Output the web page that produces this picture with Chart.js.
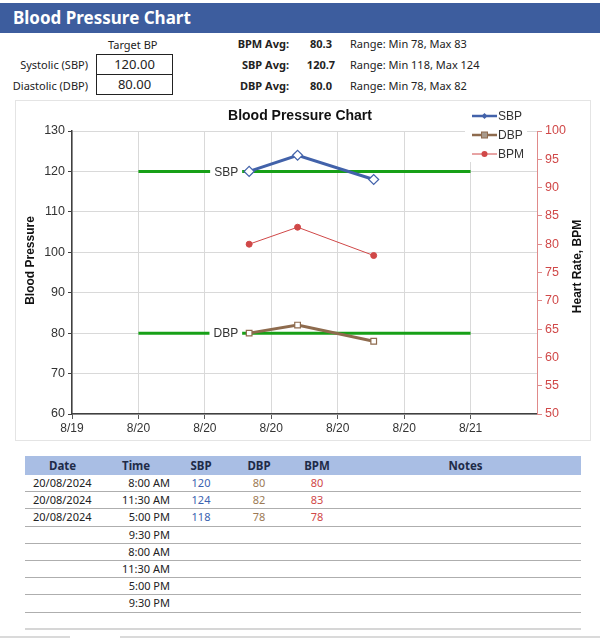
<!DOCTYPE html>
<html>
<head>
<meta charset="utf-8">
<script src="https://cdn.jsdelivr.net/npm/chart.js@4.4.1/dist/chart.umd.min.js"></script>
<style>
    body { margin: 0; width: 600px; height: 638px; background: #fff; position: relative; overflow: hidden;
           font-family: "Noto Sans", "Liberation Sans", sans-serif; color: #222; }
    .abs { position: absolute; white-space: nowrap; }
    #banner { left: 0; top: 3px; width: 600px; height: 30px; background: #3D5D9E; }
    #banner span { position: absolute; left: 13px; top: 3px; color: #fff; font-weight: bold; font-size: 17px; }
    .lbl { font-size: 11px; line-height: 14px; }
    .box { border: 1px solid #222; background: #fff; width: 75px; height: 19px; font-size: 13px;
           line-height: 19px; text-align: center; }
    .avgName { font-weight: bold; text-align: right; width: 80px; }
    .avgVal { font-weight: bold; text-align: center; width: 40px; }
    #chartBox { left: 15px; top: 100px; width: 574px; height: 339px; border: 1px solid #E4E4E4; }
    #chartWrap { position: absolute; left: 0; top: 0; width: 574px; height: 339px; }
    #log { left: 25px; top: 456px; width: 556px; font-size: 11px; }
    .row { display: flex; height: 17.2px; line-height: 16px; box-sizing: border-box; border-bottom: 1px solid #AEAEAE; }
    .head { height: 19px; line-height: 19px; background: #A9BEE4; font-weight: bold; font-size: 11.5px; border-bottom: none; }
    .row div { box-sizing: border-box; }
    .c0 { width: 97px; padding-left: 8px; }
    .c1 { width: 56px; text-align: right; padding-right: 8px; }
    .c2 { width: 46px; text-align: center; color: #3A62B0; }
    .c3 { width: 70px; text-align: center; color: #9C7A55; }
    .c4 { width: 46px; text-align: center; color: #D04848; }
    .c5 { width: 241px; text-align: center; padding-left: 10px; }
    .head div { color: #1E2B48; }
    .head .c0 { padding-left: 24px; }
    .head .c1 { text-align: left; padding: 0; }
    .row.last { border-bottom: 2px solid #D6D6D6; }
</style>
</head>
<body>
<div id="banner" class="abs"><span>Blood Pressure Chart</span></div>

<div class="abs lbl" style="left:108px; top:38px;">Target BP</div>
<div class="abs lbl" style="left:0; width:88px; text-align:right; top:58px;">Systolic (SBP)</div>
<div class="abs lbl" style="left:0; width:88px; text-align:right; top:79px;">Diastolic (DBP)</div>
<div class="abs box" id="targetSbpBox" style="left:96px; top:54px;"></div>
<div class="abs box" id="targetDbpBox" style="left:96px; top:75px; border-top:none;"></div>

<div id="stats"></div>

<div id="chartBox" class="abs">
    <div id="chartWrap"><canvas id="bpChart"></canvas></div>
</div>

<div id="log" class="abs"></div>
<div class="abs" style="left:0; top:636px; width:70px; height:2px; background:#DADADA;"></div>
<div class="abs" style="left:120px; top:636px; width:480px; height:2px; background:#DADADA;"></div>

<script>
// readings
const readingDates = ['20/08/2024', '20/08/2024', '20/08/2024'];
const logTimes = ['8:00 AM', '11:30 AM', '5:00 PM', '9:30 PM', '8:00 AM', '11:30 AM', '5:00 PM', '9:30 PM'];
const sbpValues = [120, 124, 118];
const dbpValues = [80, 82, 78];
const bpmValues = [80, 83, 78];

// targets
const targetSbp = 120;
const targetDbp = 80;

// axis setup (x in hours from 20/08/2024 00:00)
const xTickHours = [-4.8, 0, 4.8, 9.6, 14.4, 19.2, 24];
const xRange = [-4.8, 28.8];
const targetSpanHours = [0, 24];
const bpRange = [60, 130];
const bpmRange = [50, 100];

const blue = '#4262AA';
const brown = '#8E6B4E';
const red = '#D04848';
const green = '#17A017';

function parseDate(s) {
    const [d, m, y] = s.split('/').map(Number);
    return new Date(y, m - 1, d);
}
const baseDate = parseDate(readingDates[0]);

function toHours(dateStr, timeStr) {
    const [hm, ap] = timeStr.split(' ');
    let [h, min] = hm.split(':').map(Number);
    if (ap === 'PM' && h !== 12) h += 12;
    if (ap === 'AM' && h === 12) h = 0;
    const dayOffset = (parseDate(dateStr) - baseDate) / 86400000;
    return dayOffset * 24 + h + min / 60;
}

const readingHours = readingDates.map((d, i) => toHours(d, logTimes[i]));
const avg = a => a.reduce((s, v) => s + v, 0) / a.length;

// top panel
document.getElementById('targetSbpBox').textContent = targetSbp.toFixed(2);
document.getElementById('targetDbpBox').textContent = targetDbp.toFixed(2);
const stats = [['BPM Avg:', bpmValues], ['SBP Avg:', sbpValues], ['DBP Avg:', dbpValues]];
stats.forEach(([name, vals], i) => {
    const top = 37 + i * 21;
    document.getElementById('stats').insertAdjacentHTML('beforeend',
        `<div class="abs lbl avgName" style="left:209px; top:${top}px;">${name}</div>` +
        `<div class="abs lbl avgVal" style="left:301px; top:${top}px;">${avg(vals).toFixed(1)}</div>` +
        `<div class="abs lbl" style="left:350px; top:${top}px;">Range: Min ${Math.min(...vals)}, Max ${Math.max(...vals)}</div>`);
});

// log table
let html = '<div class="row head"><div class="c0">Date</div><div class="c1">Time</div>' +
    '<div class="c2">SBP</div><div class="c3">DBP</div><div class="c4">BPM</div><div class="c5">Notes</div></div>';
logTimes.forEach((t, i) => {
    const has = i < readingDates.length;
    html += `<div class="row"><div class="c0">${has ? readingDates[i] : ''}</div><div class="c1">${t}</div>` +
        `<div class="c2">${has ? sbpValues[i] : ''}</div><div class="c3">${has ? dbpValues[i] : ''}</div>` +
        `<div class="c4">${has ? bpmValues[i] : ''}</div><div class="c5"></div></div>`;
});
html += '<div class="row last"></div>';
document.getElementById('log').innerHTML = html;

// chart
const chartFont = '"Liberation Sans", Arial, sans-serif';

const overlayPlugin = {
    id: 'overlay',
    afterDatasetDraw(chart, args) {
        const ds = chart.data.datasets[args.index];
        if (!ds.targetLabel) return;
        const ctx = chart.ctx;
        const x = chart.scales.x.getPixelForValue(readingHours[0]);
        const y = chart.scales.y.getPixelForValue(ds.data[0].y);
        ctx.save();
        ctx.font = '12px ' + chartFont;
        const w = ctx.measureText(ds.targetLabel).width;
        ctx.fillStyle = '#fff';
        ctx.fillRect(x - 11 - w - 4, y - 7, w + 8, 14);
        ctx.fillStyle = '#333';
        ctx.textAlign = 'right';
        ctx.textBaseline = 'middle';
        ctx.fillText(ds.targetLabel, x - 11, y + 1);
        ctx.restore();
    },
    afterDraw(chart) {
        const ctx = chart.ctx;
        const area = chart.chartArea;
        ctx.save();
        // title
        ctx.fillStyle = '#111';
        ctx.font = 'bold 14px ' + chartFont;
        ctx.textAlign = 'center';
        ctx.textBaseline = 'middle';
        ctx.fillText('Blood Pressure Chart', chart.width / 2 - 3, 15);

        // axis titles
        ctx.font = 'bold 12px ' + chartFont;
        const midY = (area.top + area.bottom) / 2 - 12;
        ctx.save();
        ctx.translate(15, midY);
        ctx.rotate(-Math.PI / 2);
        ctx.fillText('Blood Pressure', 0, 0);
        ctx.restore();
        ctx.save();
        ctx.translate(chart.width - 12, midY + 6);
        ctx.rotate(-Math.PI / 2);
        ctx.fillText('Heart Rate, BPM', 0, 0);
        ctx.restore();

        // legend
        const lx = area.right - 65;
        const ly = 15;
        ctx.fillStyle = '#fff';
        ctx.fillRect(lx - 7, ly - 9, 62, 55);
        const items = chart.data.datasets.filter(d => !d.targetLabel);
        items.forEach((d, i) => {
            const yy = ly + i * 19;
            ctx.strokeStyle = d.borderColor;
            ctx.lineWidth = Math.min(d.borderWidth, 2.5);
            ctx.beginPath();
            ctx.moveTo(lx, yy);
            ctx.lineTo(lx + 25, yy);
            ctx.stroke();
            ctx.fillStyle = d.legendMarker;
            ctx.strokeStyle = d.borderColor;
            ctx.lineWidth = 1;
            const cx = lx + 12.5;
            if (d.pointStyle === 'rectRot') {
                ctx.beginPath();
                ctx.moveTo(cx, yy - 3); ctx.lineTo(cx + 3, yy); ctx.lineTo(cx, yy + 3); ctx.lineTo(cx - 3, yy);
                ctx.closePath(); ctx.fill();
            } else if (d.pointStyle === 'rect') {
                ctx.fillRect(cx - 3, yy - 3, 6, 6);
                ctx.strokeRect(cx - 3, yy - 3, 6, 6);
            } else {
                ctx.beginPath(); ctx.arc(cx, yy, 3, 0, Math.PI * 2); ctx.fill();
            }
            ctx.fillStyle = '#333';
            ctx.font = '12px ' + chartFont;
            ctx.textAlign = 'left';
            ctx.fillText(d.label, lx + 26, yy + 1);
        });
        ctx.restore();
    }
};

function createBpChart() {
    const ctx = document.getElementById('bpChart').getContext('2d');
    const pts = vals => vals.map((v, i) => ({ x: readingHours[i], y: v }));
    const target = v => targetSpanHours.map(h => ({ x: h, y: v }));
    new Chart(ctx, {
        type: 'line',
        data: {
            datasets: [{
                label: 'SBP',
                data: pts(sbpValues),
                borderColor: blue,
                backgroundColor: '#fff',
                borderWidth: 3,
                pointStyle: 'rectRot',
                pointRadius: 5,
                pointBorderWidth: 1.2,
                legendMarker: blue,
                yAxisID: 'y',
            }, {
                label: 'DBP',
                data: pts(dbpValues),
                borderColor: brown,
                backgroundColor: '#fff',
                borderWidth: 3,
                pointStyle: 'rect',
                pointRadius: 4,
                pointBorderWidth: 1.2,
                legendMarker: '#A89A8C',
                yAxisID: 'y',
            }, {
                label: 'BPM',
                data: pts(bpmValues),
                borderColor: red,
                backgroundColor: red,
                borderWidth: 1,
                pointStyle: 'circle',
                pointRadius: 3,
                legendMarker: red,
                yAxisID: 'y2',
            }, {
                label: 'Target SBP',
                targetLabel: 'SBP',
                data: target(targetSbp),
                borderColor: green,
                borderWidth: 3,
                pointRadius: 0,
                order: 10,
                yAxisID: 'y',
            }, {
                label: 'Target DBP',
                targetLabel: 'DBP',
                data: target(targetDbp),
                borderColor: green,
                borderWidth: 3,
                pointRadius: 0,
                order: 10,
                yAxisID: 'y',
            }],
        },
        options: {
            responsive: true,
            maintainAspectRatio: false,
            animation: false,
            layout: { padding: { top: 30 } },
            plugins: { legend: { display: false }, tooltip: { enabled: false } },
            scales: {
                x: {
                    type: 'linear',
                    min: xRange[0],
                    max: xRange[1],
                    afterBuildTicks: axis => { axis.ticks = xTickHours.map(v => ({ value: v })); },
                    afterFit: axis => { axis.height = 26; },
                    grid: { color: '#D9D9D9', tickColor: '#595959', tickLength: 5 },
                    border: { color: '#404040', width: 1.5 },
                    ticks: {
                        color: '#333',
                        font: { family: chartFont, size: 12 },
                        padding: 2,
                        maxRotation: 0,
                        callback: v => {
                            const d = new Date(baseDate.getTime() + v * 3600000);
                            return (d.getMonth() + 1) + '/' + d.getDate();
                        },
                    },
                },
                y: {
                    position: 'left',
                    min: bpRange[0],
                    max: bpRange[1],
                    afterFit: axis => { axis.width = 56; },
                    grid: { color: '#D9D9D9', tickColor: '#404040', tickLength: 4 },
                    border: { color: '#404040', width: 1.5 },
                    ticks: { stepSize: 10, color: '#333', font: { family: chartFont, size: 12.5 }, padding: 3 },
                },
                y2: {
                    position: 'right',
                    min: bpmRange[0],
                    max: bpmRange[1],
                    afterFit: axis => { axis.width = 53; },
                    grid: { drawOnChartArea: false, color: '#E08A8A', tickColor: '#E08A8A', tickLength: 5 },
                    border: { color: '#E08A8A', width: 1 },
                    ticks: { stepSize: 5, color: red, font: { family: chartFont, size: 12.5 }, padding: 3 },
                },
            },
        },
        plugins: [overlayPlugin],
    });
}

document.addEventListener('DOMContentLoaded', () => {
    createBpChart();
});
</script>
</body>
</html>
